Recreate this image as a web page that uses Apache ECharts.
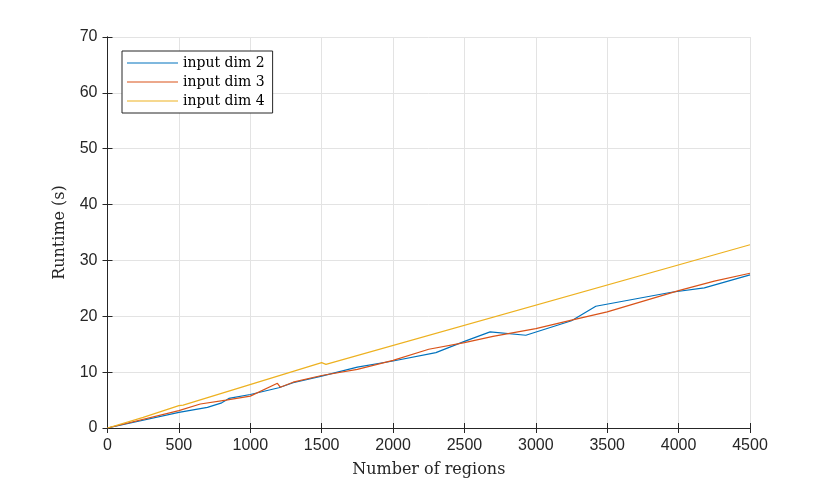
<!DOCTYPE html>
<html><head><meta charset="utf-8">
<script src="https://cdn.jsdelivr.net/npm/echarts@6/dist/echarts.min.js"></script>
<style>html,body{margin:0;padding:0;background:#fff}#c{width:830px;height:483px}</style>
</head><body><div id="c"></div>
<script>
const seriesNames = ['input dim 2', 'input dim 3', 'input dim 4'];
const dim2X = [0, 500, 700, 800, 850, 1000, 1200, 1300, 1500, 1750, 2000, 2300, 2500, 2680, 2930, 3250, 3420, 3950, 4180, 4500];
const dim2Y = [0, 2.8, 3.7, 4.5, 5.3, 6.0, 7.2, 8.1, 9.3, 10.9, 12.0, 13.5, 15.5, 17.2, 16.6, 19.2, 21.8, 24.3, 25.1, 27.4];
const dim3X = [0, 500, 650, 830, 1000, 1190, 1210, 1300, 1500, 1750, 2000, 2250, 2500, 2700, 3000, 3250, 3500, 4000, 4250, 4500];
const dim3Y = [0, 3.1, 4.3, 5.0, 5.7, 8.0, 7.3, 8.2, 9.4, 10.5, 12.1, 14.1, 15.3, 16.4, 17.8, 19.3, 20.8, 24.6, 26.3, 27.7];
const dim4X = [0, 250, 500, 530, 1500, 1530, 4500];
const dim4Y = [0, 1.9, 4.0, 4.1, 11.7, 11.4, 32.8];
const xTicks = [0, 500, 1000, 1500, 2000, 2500, 3000, 3500, 4000, 4500];
const yTicks = [0, 10, 20, 30, 40, 50, 60, 70];
const colors = ['#0072BD', '#D95319', '#EDB120'];

const zip = (xs, ys) => xs.map((x, i) => [x, ys[i]]);
const chart = echarts.init(document.getElementById('c'));
const axisLineStyle = {show: true, lineStyle: {color: '#262626', width: 1}};
const tickStyle = {show: true, inside: true, length: 5, lineStyle: {color: '#262626'}};
chart.setOption({
  animation: false,
  grid: {left: 107.5, right: 80, top: 37, bottom: 53, containLabel: false},
  legend: {
    show: true, orient: 'vertical', left: 122, top: 51, width: 146,
    backgroundColor: '#fff', borderColor: '#262626', borderWidth: 1,
    padding: [5, 8, 5, 5], itemGap: 5, itemWidth: 51, itemHeight: 10,
    icon: 'path://M0,4.5 L51,4.5 L51,5.5 L0,5.5 Z',
    textStyle: {fontFamily: 'DejaVu Serif', fontSize: 14, color: '#000'},
    data: seriesNames
  },
  xAxis: [{
    type: 'value', min: 0, max: 4500, interval: 500, position: 'bottom',
    axisLine: axisLineStyle, axisTick: tickStyle,
    axisLabel: {fontFamily: 'Liberation Sans', fontSize: 16, color: '#262626', margin: 10,
      formatter: v => xTicks.includes(v) ? String(v) : ''},
    splitLine: {show: true, lineStyle: {color: '#e3e3e3'}},
    name: 'Number of regions', nameLocation: 'middle', nameGap: 34,
    nameTextStyle: {fontFamily: 'DejaVu Serif', fontSize: 16, color: '#262626'}
  }, {
    type: 'value', min: 0, max: 4500, interval: 500, position: 'top',
    axisLine: axisLineStyle, axisTick: tickStyle, axisLabel: {show: false}, splitLine: {show: false}
  }],
  yAxis: [{
    type: 'value', min: 0, max: 70, interval: 10, position: 'left',
    axisLine: axisLineStyle, axisTick: tickStyle,
    axisLabel: {fontFamily: 'Liberation Sans', fontSize: 16, color: '#262626', margin: 10,
      formatter: v => yTicks.includes(v) ? String(v) : ''},
    splitLine: {show: true, lineStyle: {color: '#e3e3e3'}},
    name: 'Runtime (s)', nameLocation: 'middle', nameGap: 40, nameRotate: 90,
    nameTextStyle: {fontFamily: 'DejaVu Serif', fontSize: 16, color: '#262626'}
  }, {
    type: 'value', min: 0, max: 70, interval: 10, position: 'right',
    axisLine: axisLineStyle, axisTick: tickStyle, axisLabel: {show: false}, splitLine: {show: false}
  }],
  series: [
    {name: seriesNames[0], type: 'line', data: zip(dim2X, dim2Y), color: colors[0], showSymbol: false, lineStyle: {width: 1.2}},
    {name: seriesNames[1], type: 'line', data: zip(dim3X, dim3Y), color: colors[1], showSymbol: false, lineStyle: {width: 1.2}},
    {name: seriesNames[2], type: 'line', data: zip(dim4X, dim4Y), color: colors[2], showSymbol: false, lineStyle: {width: 1.2}}
  ]
});
</script></body></html>
